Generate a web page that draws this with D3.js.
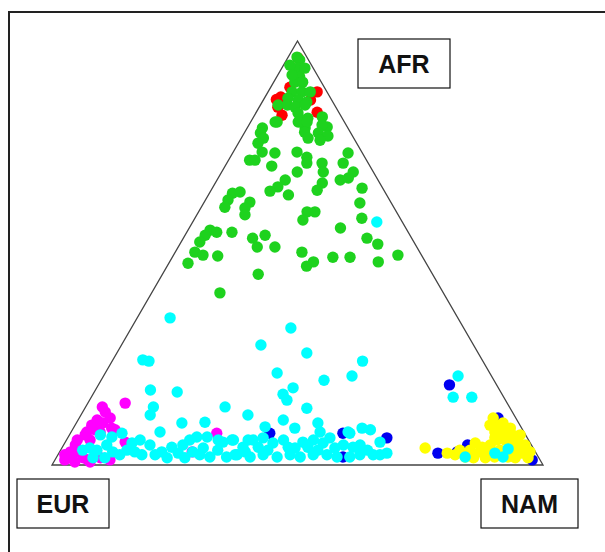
<!DOCTYPE html>
<html>
<head>
<meta charset="utf-8">
<script src="https://cdn.jsdelivr.net/npm/d3@7"></script>
<style>
  html, body { margin: 0; padding: 0; background: #fff; }
  svg { display: block; }
</style>
</head>
<body>
<svg id="chart" width="605" height="552"></svg>
<script>
// Ternary ancestry proportions per individual: [AFR, NAM]; EUR = 1 - AFR - NAM.
const vertexLabels = ["AFR", "EUR", "NAM"];

const groupRed = [
  [0.960,0.021],[0.868,0.032],[0.862,0.026],[0.825,0.056],[0.844,0.038],
  [0.880,0.100],[0.832,0.124],[0.891,0.039],[0.931,0.039],[0.861,0.096]
];

const groupGreen = [
  [0.962,0.018],[0.955,0.027],[0.936,0.033],[0.915,0.047],[0.903,0.043],[0.903,0.059],
  [0.880,0.049],[0.880,0.069],[0.880,0.086],[0.865,0.048],[0.861,0.071],[0.856,0.091],
  [0.849,0.036],[0.849,0.055],[0.844,0.073],[0.849,0.091],[0.809,0.054],[0.814,0.098],
  [0.818,0.112],[0.821,0.140],[0.795,0.118],[0.795,0.031],[0.797,0.162],[0.830,0.086],
  [0.943,0.013],[0.936,0.047],[0.920,0.029],
  [0.809,0.050],[0.783,0.033],[0.771,0.045],[0.759,0.040],[0.738,0.059],[0.719,0.043],
  [0.719,0.054],[0.736,0.086],[0.705,0.095],[0.809,0.097],[0.809,0.115],[0.802,0.149],
  [0.785,0.122],[0.771,0.136],[0.783,0.151],[0.776,0.174],[0.766,0.163],[0.738,0.130],
  [0.726,0.156],[0.712,0.163],[0.712,0.194],[0.691,0.207],[0.665,0.218],[0.648,0.216],
  [0.691,0.154],[0.672,0.139],[0.656,0.132],[0.646,0.121],[0.637,0.163],[0.736,0.235],
  [0.712,0.237],[0.691,0.268],[0.672,0.251],[0.677,0.265],[0.653,0.305],[0.618,0.318],
  [0.582,0.340],[0.641,0.047],[0.644,0.061],[0.625,0.046],[0.608,0.048],[0.620,0.093],
  [0.606,0.090],[0.590,0.098],[0.597,0.221],[0.597,0.237],[0.578,0.222],[0.559,0.308],
  [0.554,0.045],[0.549,0.061],[0.542,0.041],[0.526,0.038],[0.549,0.092],[0.535,0.141],
  [0.542,0.163],[0.514,0.161],[0.514,0.197],[0.502,0.040],[0.495,0.060],[0.476,0.039],
  [0.493,0.091],[0.502,0.258],[0.479,0.293],[0.469,0.284],[0.490,0.327],[0.490,0.362],
  [0.535,0.374],[0.521,0.403],[0.479,0.425],[0.495,0.457],[0.450,0.195],[0.406,0.139]
];

const groupMagenta = [
  [0.137,0.034],[0.125,0.046],[0.106,0.039],[0.094,0.034],[0.099,0.054],[0.078,0.032],
  [0.078,0.059],[0.059,0.022],[0.059,0.048],[0.031,0.022],[0.031,0.038],[0.017,0.029],
  [0.017,0.055],[0.017,0.090],[0.146,0.076],[0.075,0.298],[0.054,0.122],[0.012,0.112],
  [0.012,0.020],[0.007,0.074],[0.031,0.270],[0.087,0.078],
  [0.024,0.014],[0.047,0.024],[0.071,0.032],[0.083,0.046],[0.111,0.063],[0.083,0.087],
  [0.012,0.067],[0.007,0.043]
];

const groupBlue = [
  [0.189,0.715],[0.075,0.406],[0.075,0.555],[0.064,0.650],[0.019,0.583],[0.028,0.772],
  [0.047,0.823],[0.111,0.853],[0.012,0.972],[0.031,0.810]
];

const groupYellow = [
  [0.040,0.740],[0.111,0.843],[0.099,0.869],[0.078,0.863],[0.078,0.880],[0.071,0.902],
  [0.059,0.877],[0.052,0.836],[0.042,0.855],[0.031,0.871],[0.028,0.791],[0.024,0.809],
  [0.019,0.832],[0.017,0.850],[0.017,0.874],[0.035,0.895],[0.040,0.917],[0.054,0.922],
  [0.028,0.943],[0.017,0.935],[0.017,0.961],[0.019,0.919],[0.019,0.892],[0.059,0.893],
  [0.047,0.929],[0.035,0.813],
  [0.094,0.866],[0.087,0.890],[0.071,0.918],[0.047,0.940],[0.031,0.958],[0.047,0.869],
  [0.031,0.856],[0.035,0.834],[0.031,0.927],[0.064,0.870],[0.094,0.845],[0.054,0.916]
];

const groupCyan = [
  [0.347,0.067],[0.248,0.061],[0.245,0.075],[0.177,0.112],[0.172,0.169],[0.137,0.138],
  [0.137,0.284],[0.323,0.325],[0.283,0.284],[0.264,0.387],[0.217,0.350],[0.182,0.400],
  [0.167,0.387],[0.153,0.402],[0.134,0.452],[0.200,0.454],[0.210,0.506],[0.245,0.510],
  [0.210,0.722],[0.160,0.737],[0.160,0.775],[0.573,0.375],
  [0.118,0.141],[0.099,0.215],[0.101,0.261],[0.078,0.181],[0.071,0.063],[0.066,0.089],
  [0.075,0.105],[0.052,0.137],[0.047,0.088],[0.040,0.057],[0.035,0.045],[0.035,0.074],
  [0.031,0.108],[0.035,0.135],[0.017,0.075],[0.017,0.099],[0.024,0.171],[0.047,0.176],
  [0.031,0.208],[0.017,0.226],[0.028,0.243],[0.047,0.243],[0.059,0.251],[0.066,0.262],
  [0.066,0.283],[0.031,0.271],[0.040,0.288],[0.019,0.312],[0.054,0.321],[0.059,0.337],
  [0.019,0.346],[0.024,0.361],
  [0.118,0.340],[0.106,0.418],[0.087,0.451],[0.099,0.492],[0.090,0.389],[0.078,0.507],
  [0.078,0.564],[0.087,0.588],[0.083,0.607],[0.054,0.641],[0.028,0.668],[0.059,0.340],
  [0.042,0.368],[0.059,0.380],[0.064,0.398],[0.052,0.424],[0.059,0.442],[0.054,0.484],
  [0.059,0.503],[0.052,0.526],[0.064,0.534],[0.047,0.570],[0.042,0.592],[0.035,0.625],
  [0.024,0.365],[0.019,0.394],[0.024,0.418],[0.019,0.449],[0.024,0.473],[0.019,0.496],
  [0.024,0.520],[0.024,0.548],[0.019,0.571],[0.019,0.597],[0.024,0.615],[0.024,0.642],
  [0.075,0.569],
  [0.024,0.126],[0.031,0.153],[0.024,0.198],[0.042,0.223],[0.017,0.262],[0.024,0.289],
  [0.035,0.320],[0.031,0.378],[0.042,0.399],[0.035,0.422],[0.040,0.475],[0.035,0.524],
  [0.040,0.556],[0.047,0.604],[0.024,0.656],[0.042,0.460],[0.042,0.500],[0.059,0.370],
  [0.059,0.309],[0.059,0.150],
  [0.019,0.832],[0.028,0.888],[0.038,0.910],[0.019,0.909]
];

// Drawing order (later groups sit on top)
const groups = [
  { values: groupRed,     color: "#ff0000" },
  { values: groupGreen,   color: "#1ed21e" },
  { values: groupMagenta, color: "#ff00ff" },
  { values: groupBlue,    color: "#0000f0" },
  { values: groupYellow,  color: "#ffff00" },
  { values: groupCyan,    color: "#00ffff" }
];

const svg = d3.select("#chart");

// Horizontal position follows NAM + AFR/2, vertical follows AFR
const x = d3.scaleLinear().domain([0, 1]).range([52, 543]);
const y = d3.scaleLinear().domain([0, 1]).range([465, 41]);
const project = (afr, nam) => [x(nam + afr / 2), y(afr)];

// Outer frame
svg.append("rect")
  .attr("x", 9).attr("y", 12)
  .attr("width", 700).attr("height", 700)
  .attr("fill", "none")
  .attr("stroke", "#222")
  .attr("stroke-width", 2);

// Triangle outline: EUR (bottom left), NAM (bottom right), AFR (top)
const corners = [project(0, 0), project(0, 1), project(1, 0)];
svg.append("path")
  .attr("d", d3.line()(corners) + "Z")
  .attr("fill", "none")
  .attr("stroke", "#444")
  .attr("stroke-width", 1.3);

// Points
groups.forEach(g => {
  svg.append("g")
    .selectAll("circle")
    .data(g.values)
    .join("circle")
    .attr("cx", d => project(d[0], d[1])[0])
    .attr("cy", d => project(d[0], d[1])[1])
    .attr("r", 5.7)
    .attr("fill", g.color);
});

// Vertex label boxes
const labelBoxes = [
  { text: vertexLabels[0], x: 358, y: 39, w: 92, h: 49 },
  { text: vertexLabels[1], x: 17,  y: 479, w: 92, h: 49 },
  { text: vertexLabels[2], x: 481, y: 479, w: 97, h: 49 }
];
const lbl = svg.append("g").selectAll("g").data(labelBoxes).join("g");
lbl.append("rect")
  .attr("x", d => d.x).attr("y", d => d.y)
  .attr("width", d => d.w).attr("height", d => d.h)
  .attr("fill", "#fff")
  .attr("stroke", "#111")
  .attr("stroke-width", 1.2);
lbl.append("text")
  .attr("x", d => d.x + d.w / 2)
  .attr("y", d => d.y + d.h / 2 + 9)
  .attr("text-anchor", "middle")
  .attr("font-family", "Liberation Sans, Arial, sans-serif")
  .attr("font-weight", "bold")
  .attr("font-size", 25)
  .attr("fill", "#111")
  .text(d => d.text);
</script>
</body>
</html>
